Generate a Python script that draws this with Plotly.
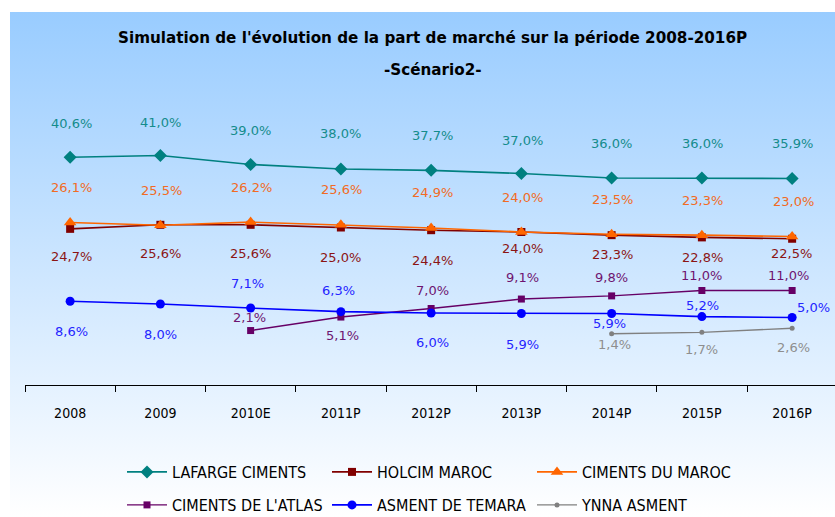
import base64
import plotly.graph_objects as go

categories = ["2008", "2009", "2010E", "2011P", "2012P", "2013P", "2014P", "2015P", "2016P"]

series_names = ["LAFARGE CIMENTS", "HOLCIM MAROC", "CIMENTS DU MAROC",
                "CIMENTS DE L'ATLAS", "ASMENT DE TEMARA", "YNNA ASMENT"]

lafarge = [40.6, 41.0, 39.0, 38.0, 37.7, 37.0, 36.0, 36.0, 35.9]
holcim = [24.7, 25.6, 25.6, 25.0, 24.4, 24.0, 23.3, 22.8, 22.5]
cim_maroc = [26.1, 25.5, 26.2, 25.6, 24.9, 24.0, 23.5, 23.3, 23.0]
atlas = [None, None, 2.1, 5.1, 7.0, 9.1, 9.8, 11.0, 11.0]
temara = [8.6, 8.0, 7.1, 6.3, 6.0, 5.9, 5.9, 5.2, 5.0]
ynna = [None, None, None, None, None, None, 1.4, 1.7, 2.6]

# label offsets (pixels) – style only
off_lafarge = [(1, 34), (0, 33), (0, 34), (0, 36), (1, 35), (1, 33), (0, 35), (1, 35), (0, 35)]
off_holcim = [(1, -28), (0, -29), (0, -29), (0, -30), (1, -30), (1, -16), (1, -19), (1, -20), (-1, -15)]
off_maroc = [(1, 35)] * 9
off_atlas = [None, None, (-1, 13), (2, -18), (1, 18), (1, 22), (0, 18), (0, 15), (-4, 15)]
off_temara = [(1, -30), (0, -30), (-3, 25), (-2, 21), (1, -29), (1, -31), (-2, -10), (1, 11), (21, 10)]
off_ynna = [None] * 6 + [(3, -11), (0, -17), (1, -19)]

styles = [
    dict(line="#008080", marker="#008080", symbol="diamond", size=10, text="#148C8C", width=1.6),
    dict(line="#800000", marker="#800000", symbol="square", size=8, text="#8B1414", width=1.6),
    dict(line="#FF6600", marker="#FF6600", symbol="triangle-up", size=11, text="#F26B24", width=1.6),
    dict(line="#660066", marker="#660066", symbol="square", size=7, text="#6E1470", width=1.4),
    dict(line="#0000FF", marker="#0000FF", symbol="circle", size=9, text="#2424FF", width=1.6),
    dict(line="#808080", marker="#808080", symbol="circle", size=5, text="#8E8E8E", width=1.4),
]

all_series = [lafarge, holcim, cim_maroc, atlas, temara, ynna]
all_offsets = [off_lafarge, off_holcim, off_maroc, off_atlas, off_temara, off_ynna]

W, H = 835, 517
L, R, T, B = 25, 0, 115, 132
PW = W - L - R
PH = H - T - B

narrow = "Liberation Sans Narrow, Arial Narrow, DejaVu Sans Condensed, sans-serif"
label_font = "DejaVu Sans, Verdana, sans-serif"

fig = go.Figure()
for i in range(6):
    st = styles[i]
    fig.add_trace(go.Scatter(
        x=categories, y=all_series[i], name=series_names[i], mode="lines+markers",
        line=dict(color=st["line"], width=st["width"]),
        marker=dict(color=st["marker"], symbol=st["symbol"], size=st["size"]),
        connectgaps=False, hoverinfo="skip",
        legend="legend" if i < 3 else "legend2",
    ))

annotations = []
for i in range(6):
    vals = all_series[i]
    offs = all_offsets[i]
    for j, v in enumerate(vals):
        if v is None:
            continue
        dx, dy = offs[j]
        annotations.append(dict(
            x=j, y=v, xref="x", yref="y", showarrow=False,
            text=f"{v:.1f}".replace(".", ",") + "%",
            xshift=dx, yshift=dy,
            font=dict(family=label_font, size=13, color=styles[i]["text"]),
        ))

def py2paper(py):
    return (H - B - py) / PH

def px2paper(px):
    return (px - L) / PW

title_font = "DejaVu Sans, Verdana, sans-serif"
annotations.append(dict(
    x=px2paper(433), y=py2paper(38), xref="paper", yref="paper", showarrow=False,
    text="<b>Simulation de l'évolution de la part de marché sur la période 2008-2016P</b>",
    font=dict(family=title_font, size=15.2, color="#000000"), xanchor="center", yanchor="middle",
))
annotations.append(dict(
    x=px2paper(433), y=py2paper(70), xref="paper", yref="paper", showarrow=False,
    text="<b>-Scénario2-</b>",
    font=dict(family=title_font, size=15.2, color="#000000"), xanchor="center", yanchor="middle",
))

svg = ('<svg xmlns="http://www.w3.org/2000/svg" width="100" height="100" preserveAspectRatio="none">'
       '<defs><linearGradient id="g" x1="0" y1="0" x2="0" y2="1">'
       '<stop offset="0" stop-color="#99CCFF"/><stop offset="1" stop-color="#FFFFFF"/>'
       '</linearGradient></defs><rect width="100" height="100" fill="url(#g)"/></svg>')
src = "data:image/svg+xml;base64," + base64.b64encode(svg.encode()).decode()

legend_common = dict(orientation="h", xanchor="left", yanchor="middle",
                     entrywidth=150, entrywidthmode="pixels", itemwidth=40,
                     font=dict(family=narrow, size=16, color="#000000"),
                     bgcolor="rgba(0,0,0,0)")

fig.update_layout(
    width=W, height=H,
    margin=dict(l=L, r=R, t=T, b=B, autoexpand=False),
    paper_bgcolor="#FFFFFF", plot_bgcolor="rgba(0,0,0,0)",
    showlegend=True,
    legend=dict(x=px2paper(122), y=py2paper(472), **legend_common),
    legend2=dict(x=px2paper(122), y=py2paper(505), **legend_common),
    annotations=annotations,
    images=[dict(source=src, xref="paper", yref="paper", x=px2paper(10), y=py2paper(12),
                 sizex=(W - 10) / PW, sizey=(H - 12) / PH, sizing="stretch",
                 xanchor="left", yanchor="top", layer="below")],
    xaxis=dict(type="category", range=[-0.5, 8.475], showgrid=False, zeroline=False,
               showline=True, linecolor="#000000", linewidth=1,
               ticks="outside", tickson="boundaries", ticklen=6, tickcolor="#000000",
               ticklabelstandoff=15,
               tickfont=dict(family=narrow, size=14, color="#000000")),
    yaxis=dict(range=[-10, 50], visible=False, showgrid=False, zeroline=False),
)

fig.write_html("out.html", config={"displayModeBar": False},
               post_script="document.body.style.margin='0';document.body.style.padding='0';")
